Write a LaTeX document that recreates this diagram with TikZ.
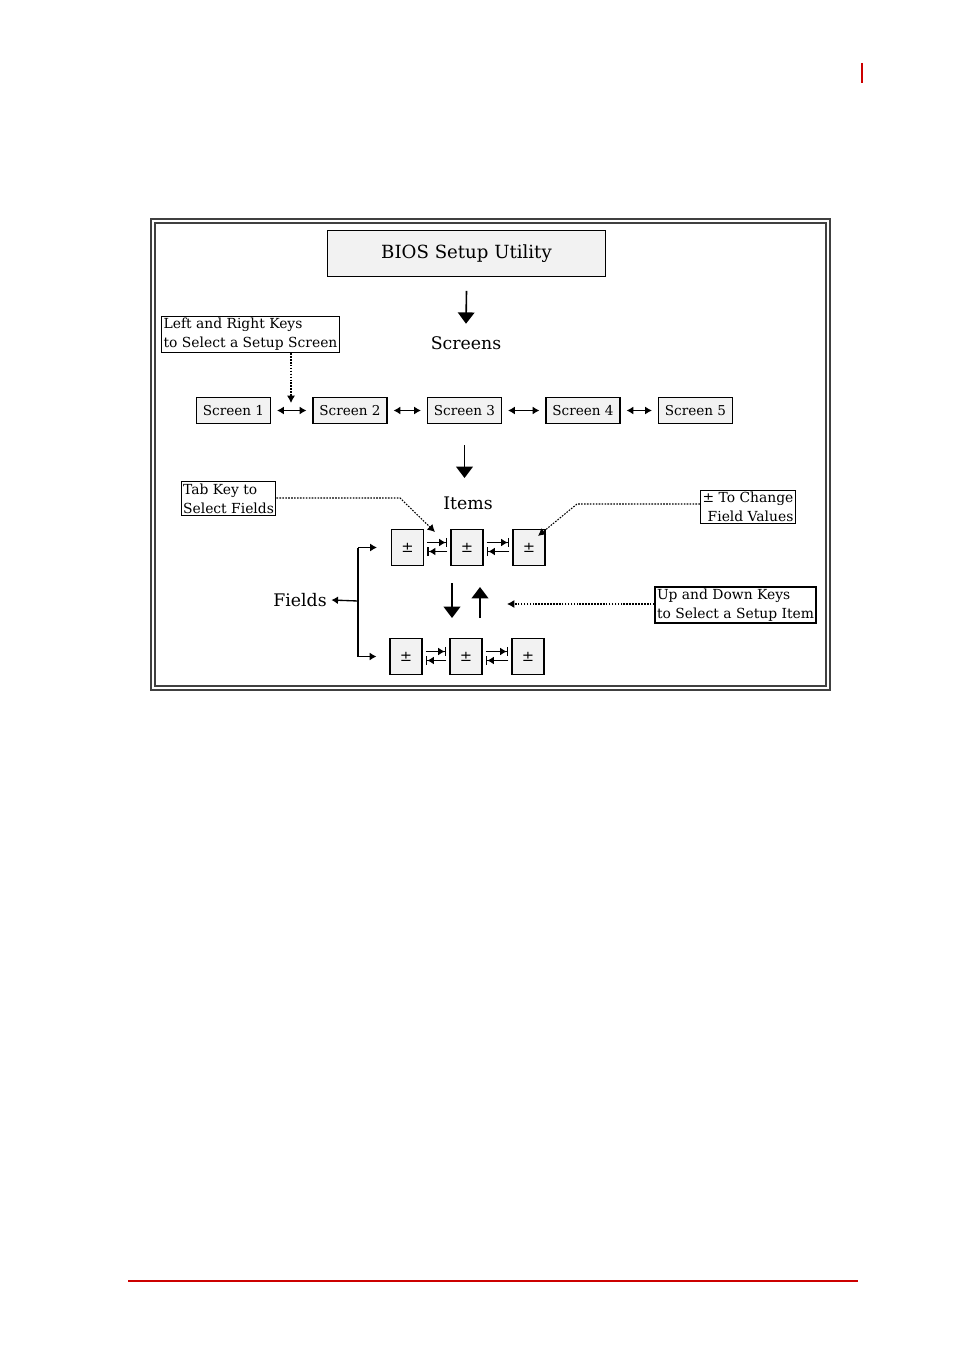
\documentclass[tikz,border=0pt]{standalone}
\usepackage{fontspec}
\setmainfont{DejaVu Serif}
\usetikzlibrary{arrows.meta,calc}

\definecolor{boxgray}{gray}{0.95}
\definecolor{pagered}{RGB}{204,0,0}

\tikzset{
  titlebox/.style={draw, fill=boxgray, line width=0.9pt, minimum width=209pt, minimum height=34pt, font=\fontsize{13.6}{15}\selectfont},
  screenbox/.style={draw, fill=boxgray, line width=0.9pt, minimum width=55.5pt, minimum height=19pt, inner sep=1pt, font=\fontsize{10.2}{12}\selectfont},
  fieldbox/.style={draw, fill=boxgray, line width=0.9pt, minimum width=24pt, minimum height=26.5pt, inner sep=0pt, font=\fontsize{11}{12}\selectfont},
  notebox/.style={draw, line width=0.9pt, inner sep=1.5pt, font=\fontsize{10.4}{14}\selectfont},
  biglabel/.style={font=\fontsize{13}{15}\selectfont},
  bigarrow/.style={line width=1.2pt, -{Triangle[width=12.5pt,length=8.5pt]}},
  dblarrow/.style={line width=1pt, {Latex[width=6pt,length=5pt]}-{Latex[width=6pt,length=5pt]}, shorten <=4.5pt, shorten >=4.5pt},
  tabarrow/.style={line width=1pt, -{Latex[width=6pt,length=5pt] Bar[width=7pt,line width=1.2pt]}},
  smallarrow/.style={line width=1pt, -{Latex[width=6pt,length=5pt]}},
  hintline/.style={dash pattern=on 1.2pt off 1pt, line width=0.8pt, -{Latex[width=6pt,length=5.5pt]}}
}

\begin{document}
\begin{tikzpicture}[x=0.75pt, y=-0.75pt]
\useasboundingbox (0,0) rectangle (954,1352);

%Page marks
\draw[pagered, line width=2pt] (862,63) -- (862,83);
\draw[pagered, line width=1.6pt] (128,1281) -- (858,1281);

%Frame
\draw[black!75, line width=1.3pt] (151,219) rectangle (830,690);
\draw[black!75, line width=0.9pt] (155,223) rectangle (826,686);

%Title
\node[titlebox] (bios) at (466.5,253.5) {BIOS Setup Utility};
\node[biglabel] (screens) at (466,343) {Screens};
\draw[bigarrow] (bios.south)++(0,14) coordinate (t1) -- ($(screens.north)+(0,-8)$);

%Screens
\node[screenbox] (s1) at (233.5,410.5) {Screen 1};
\node[screenbox] (s2) at (350,410.5) {Screen 2};
\node[screenbox] (s3) at (464.5,410.5) {Screen 3};
\node[screenbox] (s4) at (583,410.5) {Screen 4};
\node[screenbox] (s5) at (695.5,410.5) {Screen 5};
\foreach \a/\b in {s1/s2, s2/s3, s3/s4, s4/s5}
  \draw[dblarrow] (\a) -- (\b);

\node[notebox, align=left] (lrkeys) at (250.5,334.5) {Left and Right Keys\\to Select a Setup Screen};
\path (291,403) coordinate (lrtip);
\draw[hintline] (lrkeys.south -| lrtip) -- (lrtip);

%Items
\node[biglabel] (items) at (468,503) {Items};
\draw[bigarrow] (464.5,445) coordinate (t2) -- (464.5,478);

\node[fieldbox] (f1) at (407.5,547.5) {±};
\node[fieldbox] (f2) at (467,547.5) {±};
\node[fieldbox] (f3) at (529,547.5) {±};
\node[fieldbox, minimum height=27.5pt] (g1) at (406,656.5) {±};
\node[fieldbox, minimum height=27.5pt] (g2) at (466,656.5) {±};
\node[fieldbox, minimum height=27.5pt] (g3) at (528,656.5) {±};

\foreach \a/\b in {f1/f2, f2/f3, g1/g2, g2/g3} {
  \draw[tabarrow] ($(\a.east)+(3,-5)$) -- ($(\b.west)+(-3,-5)$);
  \draw[tabarrow] ($(\b.west)+(-3,4)$) -- ($(\a.east)+(3,4)$);
}

%Tab key
\node[notebox, align=left] (tabkey) at (228.5,498.5) {Tab Key to\\Select Fields};
\path (400,498) coordinate (tabbend);
\draw[hintline] (tabkey.east |- tabbend) -- (tabbend) -- (435,532);

%Change values
\node[notebox, align=right] (change) at (748,507) {± To Change\\Field Values};
\path (577,504) coordinate (chbend);
\draw[hintline] (change.west |- chbend) -- (chbend) -- (538,536);

%Fields
\node[biglabel] (fields) at (300,600) {Fields};
\path (358,601) coordinate (brk);
\draw[line width=1pt] (brk |- f1) -- (brk |- g1);
\draw[smallarrow] (brk |- f1) -- ($(f1.west)+(-14,0)$);
\draw[smallarrow] (brk |- g1) -- ($(g1.west)+(-13,0)$);
\draw[smallarrow] (brk) -- (fields.east);

%Up and down
\draw[bigarrow] (452,583) coordinate (dn) -- (452,618);
\draw[bigarrow] (480,618) coordinate (up) -- (480,587);
\node[notebox, align=left] (updown) at (735.5,605) {Up and Down Keys\\to Select a Setup Item};
\path (507,604) coordinate (udtip);
\draw[hintline] (updown.west |- udtip) -- (udtip);

\end{tikzpicture}
\end{document}
